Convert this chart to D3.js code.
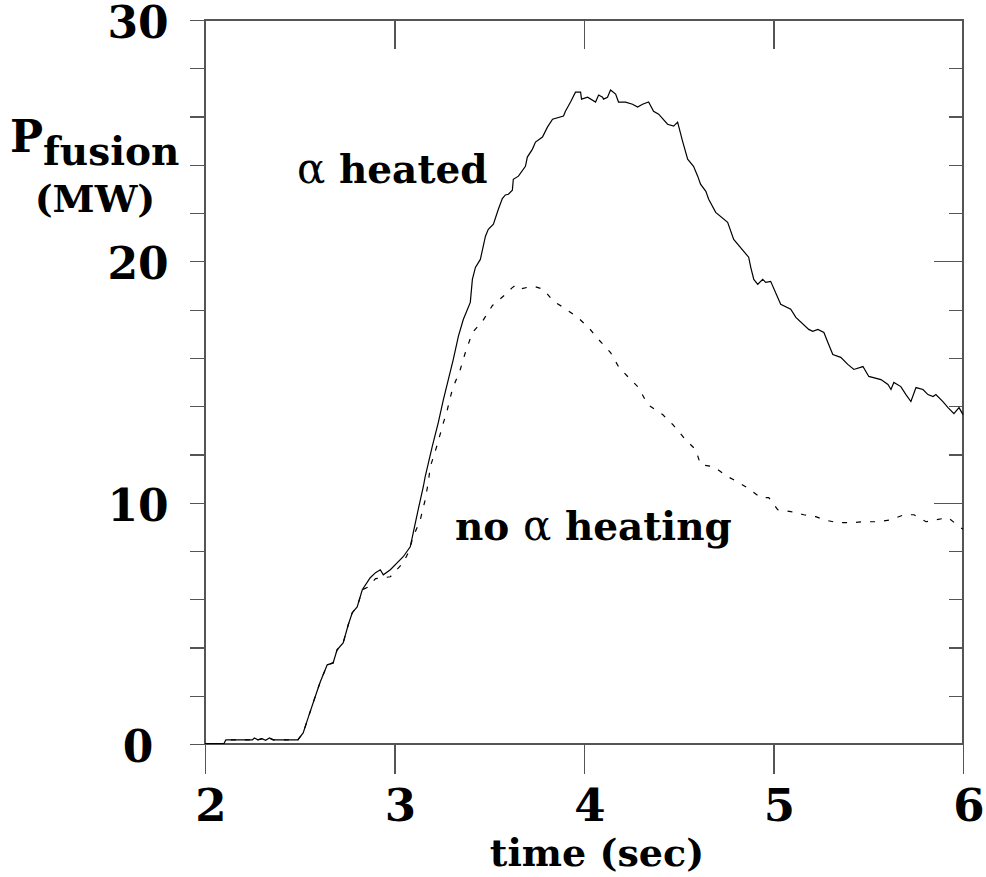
<!DOCTYPE html>
<html>
<head>
<meta charset="utf-8">
<script src="https://cdn.jsdelivr.net/npm/d3@7"></script>
<style>
  body { margin: 0; background: #fff; }
  svg text { font-family: "DejaVu Serif", serif; font-weight: bold; fill: #000; }
</style>
</head>
<body>
<svg width="986" height="877"></svg>
<script>
// tick labels
var xTickLabels = [2, 3, 4, 5, 6];
var yTickLabels = [0, 10, 20, 30];

// alpha heated run (solid)
var heatedT = [2.00, 2.10, 2.11, 2.25, 2.26, 2.28, 2.30, 2.32, 2.34, 2.36, 2.49, 2.518, 2.544, 2.581, 2.608,
  2.645, 2.676, 2.697, 2.729, 2.756, 2.777, 2.803, 2.830, 2.872, 2.900, 2.925, 2.941, 2.978, 3.046, 3.083,
  3.099, 3.125, 3.152, 3.162, 3.199, 3.231, 3.258, 3.284, 3.310, 3.337, 3.363, 3.400, 3.411, 3.427, 3.453,
  3.480, 3.495, 3.522, 3.548, 3.569, 3.585, 3.601, 3.622, 3.627, 3.654, 3.691, 3.701, 3.728, 3.744, 3.781,
  3.807, 3.834, 3.892, 3.902, 3.929, 3.955, 3.982, 3.987, 4.019, 4.061, 4.077, 4.098, 4.103, 4.124, 4.140,
  4.167, 4.182, 4.219, 4.256, 4.283, 4.309, 4.341, 4.367, 4.394, 4.441, 4.473, 4.494, 4.520, 4.547, 4.578,
  4.600, 4.615, 4.643, 4.658, 4.695, 4.758, 4.790, 4.843, 4.869, 4.880, 4.896, 4.917, 4.943, 4.959, 4.985,
  5.038, 5.091, 5.118, 5.186, 5.207, 5.234, 5.266, 5.287, 5.313, 5.355, 5.392, 5.424, 5.472, 5.503, 5.567,
  5.604, 5.620, 5.635, 5.672, 5.699, 5.725, 5.752, 5.789, 5.815, 5.842, 5.857, 5.894, 5.921, 5.952, 5.979, 6.00];
var heatedP = [0.02, 0.02, 0.17, 0.17, 0.25, 0.17, 0.22, 0.15, 0.25, 0.17, 0.17, 0.46, 1.08, 1.95, 2.57,
  3.28, 3.36, 3.90, 4.19, 4.94, 5.44, 5.68, 6.39, 6.89, 7.10, 7.22, 7.01, 7.22, 7.76, 8.17,
  8.76, 9.71, 10.66, 11.08, 12.32, 13.32, 14.27, 15.10, 15.93, 16.89, 17.59, 18.30, 19.25, 19.75, 20.08,
  21.04, 21.33, 21.54, 22.16, 22.60, 22.75, 22.78, 22.95, 23.40, 23.53, 23.94, 24.32, 24.65, 24.94, 25.15,
  25.56, 25.89, 26.02, 26.22, 26.60, 27.01, 27.01, 26.72, 26.80, 26.60, 26.89, 26.80, 26.72, 26.80, 27.10,
  26.93, 26.60, 26.60, 26.51, 26.39, 26.51, 26.60, 26.22, 26.10, 25.68, 25.60, 25.77, 24.98, 24.23, 23.94,
  23.53, 23.20, 22.90, 22.57, 22.03, 21.62, 20.91, 20.41, 20.17, 19.75, 19.25, 19.05, 19.25, 19.13, 19.17,
  18.22, 18.02, 17.68, 17.18, 17.10, 17.18, 17.05, 16.64, 16.14, 16.02, 15.73, 15.52, 15.64, 15.23, 15.10,
  14.90, 14.69, 14.98, 14.81, 14.48, 14.19, 14.77, 14.69, 14.48, 14.40, 14.48, 14.19, 13.94, 13.69, 13.94, 13.65];

// no alpha heating run (dashed)
var noHeatT = [2.00, 2.10, 2.11, 2.25, 2.26, 2.28, 2.30, 2.32, 2.34, 2.36, 2.49, 2.518, 2.544, 2.581, 2.608,
  2.645, 2.676, 2.697, 2.729, 2.756, 2.777, 2.803, 2.830, 2.860, 2.900, 2.978, 3.046, 3.073, 3.099, 3.136,
  3.162, 3.178, 3.189, 3.226, 3.252, 3.279, 3.305, 3.347, 3.374, 3.411, 3.464, 3.517, 3.585, 3.620, 3.638,
  3.660, 3.701, 3.743, 3.786, 3.839, 3.892, 3.966, 4.024, 4.077, 4.140, 4.182, 4.235, 4.288, 4.336, 4.415,
  4.468, 4.536, 4.589, 4.615, 4.684, 4.758, 4.790, 4.853, 4.933, 4.975, 5.022, 5.091, 5.160, 5.223, 5.266,
  5.339, 5.408, 5.477, 5.556, 5.620, 5.688, 5.741, 5.805, 5.857, 5.921, 5.989, 6.00];
var noHeatP = [0.02, 0.02, 0.17, 0.17, 0.25, 0.17, 0.22, 0.15, 0.25, 0.17, 0.17, 0.46, 1.08, 1.95, 2.57,
  3.28, 3.36, 3.90, 4.19, 4.94, 5.44, 5.68, 6.39, 6.50, 6.85, 6.93, 7.51, 7.93, 8.59, 9.29,
  10.12, 10.83, 11.49, 12.41, 13.15, 13.86, 14.69, 15.52, 16.22, 17.05, 17.51, 18.17, 18.63, 18.90, 19.00,
  18.85, 18.92, 18.95, 18.84, 18.34, 18.09, 17.68, 17.26, 16.76, 16.22, 15.64, 15.19, 14.77, 14.07, 13.65,
  13.24, 12.61, 12.20, 11.58, 11.49, 11.08, 10.95, 10.66, 10.21, 10.21, 9.71, 9.63, 9.50, 9.42, 9.29,
  9.17, 9.17, 9.21, 9.21, 9.29, 9.50, 9.50, 9.21, 9.29, 9.38, 8.96, 8.90];

var svg = d3.select("svg");

var x = d3.scaleLinear().domain([2, 6]).range([205, 963]);
var y = d3.scaleLinear().domain([0, 30]).range([744, 20]);

var axisColor = "#555";

// frame
svg.append("rect")
    .attr("x", x(2)).attr("y", y(30))
    .attr("width", x(6) - x(2)).attr("height", y(0) - y(30))
    .attr("fill", "none").attr("stroke", axisColor).attr("stroke-width", 1.2)
    .attr("shape-rendering", "crispEdges");

var minorY = d3.range(0, 31, 2);

function styleAxis(g) {
  g.select(".domain").remove();
  g.selectAll("line").attr("stroke", axisColor).attr("stroke-width", 1.2).attr("shape-rendering", "crispEdges");
  g.selectAll("text").remove();
}

// left ticks (outward)
svg.append("g").attr("transform", "translate(" + x(2) + ",0)")
    .call(d3.axisLeft(y).tickValues(minorY).tickSize(15))
    .call(styleAxis);

// right ticks (inward), long at the tens
svg.append("g").attr("transform", "translate(" + x(6) + ",0)")
    .call(d3.axisLeft(y).tickValues(minorY.filter(function(d) { return d % 10 != 0; })).tickSize(14))
    .call(styleAxis);
svg.append("g").attr("transform", "translate(" + x(6) + ",0)")
    .call(d3.axisLeft(y).tickValues(yTickLabels).tickSize(29))
    .call(styleAxis);

// bottom ticks (outward)
svg.append("g").attr("transform", "translate(0," + y(0) + ")")
    .call(d3.axisBottom(x).tickValues(xTickLabels).tickSize(30))
    .call(styleAxis);

// top ticks (inward)
svg.append("g").attr("transform", "translate(0," + y(30) + ")")
    .call(d3.axisBottom(x).tickValues(xTickLabels).tickSize(29))
    .call(styleAxis);

// tick labels
svg.append("g").selectAll("text")
  .data(yTickLabels)
  .enter().append("text")
    .attr("x", 138)
    .attr("y", function(d) { return y(d) + 18; })
    .attr("text-anchor", "middle")
    .attr("font-size", 44)
    .text(function(d) { return d; });

svg.append("g").selectAll("text")
  .data(xTickLabels)
  .enter().append("text")
    .attr("x", function(d) { return x(d) + 6; })
    .attr("y", 821)
    .attr("text-anchor", "middle")
    .attr("font-size", 45)
    .text(function(d) { return d; });

// axis titles
svg.append("text")
    .attr("x", 597).attr("y", 866)
    .attr("text-anchor", "middle")
    .attr("font-size", 38)
    .text("time (sec)");

var yt = svg.append("text").attr("x", 10).attr("y", 152);
yt.append("tspan").attr("font-size", 44).text("P");
yt.append("tspan").attr("font-size", 39).attr("dy", 13).text("fusion");
svg.append("text")
    .attr("x", 95).attr("y", 212)
    .attr("text-anchor", "middle")
    .attr("font-size", 38)
    .text("(MW)");

// curves
var line = d3.line()
    .x(function(d) { return x(d[0]); })
    .y(function(d) { return y(d[1]); });

svg.append("path")
    .datum(d3.zip(heatedT, heatedP))
    .attr("d", line)
    .attr("fill", "none")
    .attr("stroke", "#000")
    .attr("stroke-width", 1.2);

svg.append("path")
    .datum(d3.zip(noHeatT, noHeatP))
    .attr("d", line)
    .attr("fill", "none")
    .attr("stroke", "#000")
    .attr("stroke-width", 1.2)
    .attr("stroke-dasharray", "5,9");

// annotations
var a1 = svg.append("text").attr("x", 297).attr("y", 183).attr("font-size", 39);
a1.append("tspan").attr("font-weight", "normal").attr("font-size", 42).text("α");
a1.append("tspan").text(" heated");

var a2 = svg.append("text").attr("x", 455).attr("y", 540).attr("font-size", 39);
a2.append("tspan").text("no ");
a2.append("tspan").attr("font-weight", "normal").attr("font-size", 42).text("α");
a2.append("tspan").text(" heating");
</script>
</body>
</html>
